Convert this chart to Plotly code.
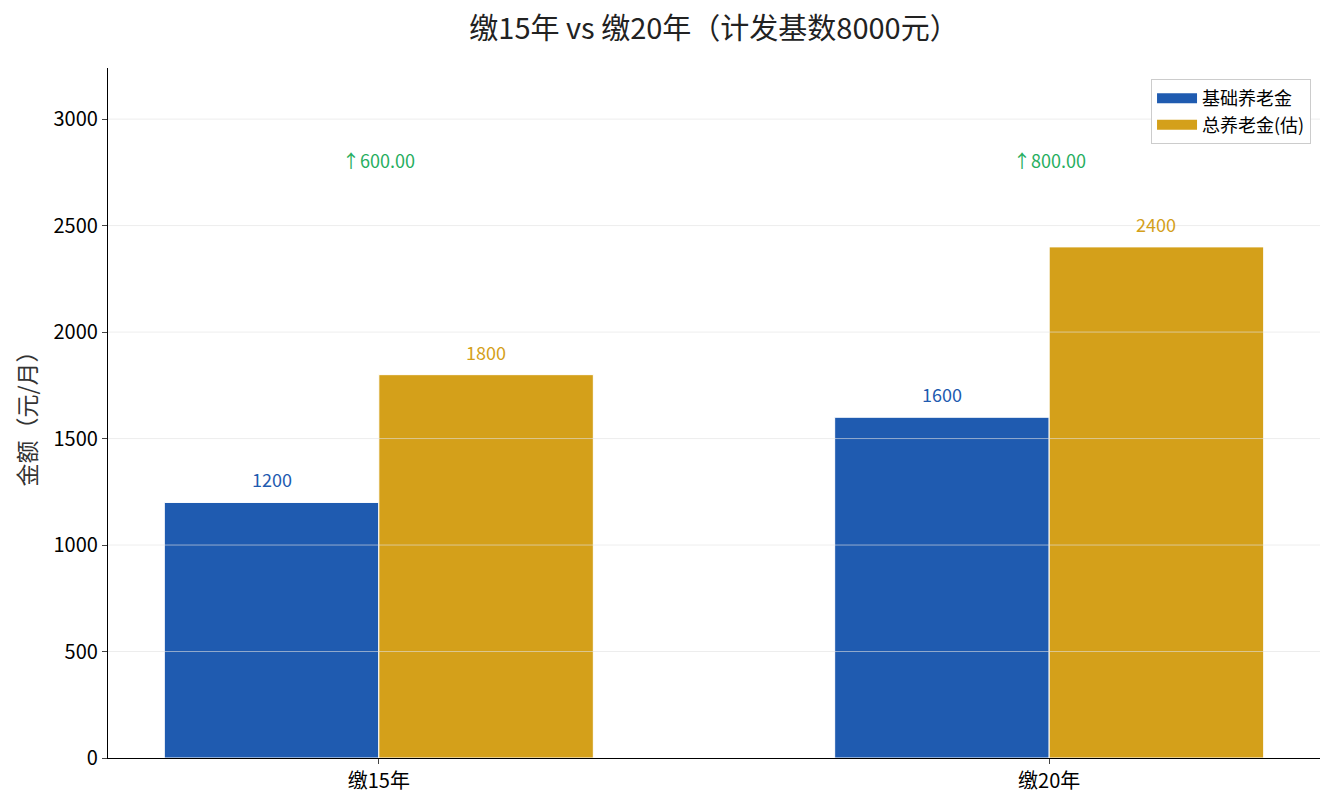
import plotly.graph_objects as go

categories = ["缴15年", "缴20年"]
basic_pension = [1200, 1600]
total_pension = [1800, 2400]
series_names = ["基础养老金", "总养老金(估)"]
y_ticks = [0, 500, 1000, 1500, 2000, 2500, 3000]

BLUE = "#1f5bb0"
GOLD = "#d4a01a"
GREEN = "#27ae60"
FONT = "Noto Sans CJK SC"
W = 0.32

xs = list(range(len(categories)))
fig = go.Figure()
fig.add_trace(go.Bar(x=xs, y=basic_pension, name=series_names[0], width=W, offset=-W, showlegend=False,
                     marker=dict(color=BLUE, line=dict(color="white", width=1))))
fig.add_trace(go.Bar(x=xs, y=total_pension, name=series_names[1], width=W, offset=0, showlegend=False,
                     marker=dict(color=GOLD, line=dict(color="white", width=1))))
# legend entries with wide rectangular swatches
for name, col in zip(series_names, [BLUE, GOLD]):
    fig.add_trace(go.Scatter(x=[None], y=[None], mode="lines", name=name,
                             line=dict(color=col, width=13), hoverinfo="skip"))

ymax = max(total_pension) * 1.35
annotations = []
for i, (b, t) in enumerate(zip(basic_pension, total_pension)):
    annotations.append(dict(x=i - W / 2, y=b, text=str(b), showarrow=False, yshift=23,
                            font=dict(color=BLUE, size=18, family=FONT)))
    annotations.append(dict(x=i + W / 2, y=t, text=str(t), showarrow=False, yshift=23,
                            font=dict(color=GOLD, size=18, family=FONT)))
    annotations.append(dict(x=i, y=max(total_pension) * 1.17, text=f"↑{t - b:.2f}", showarrow=False,
                            font=dict(color=GREEN, size=18, family=FONT)))

shapes = [dict(type="line", xref="paper", x0=0, x1=1, yref="y", y0=v, y1=v, layer="above",
               line=dict(color="rgba(225,225,225,0.6)", width=1)) for v in y_ticks if v > 0]

fig.update_layout(
    width=1327, height=802,
    margin=dict(l=100, r=15, t=60, b=52),
    plot_bgcolor="white", paper_bgcolor="white",
    font=dict(family=FONT, size=18, color="black"),
    title=dict(text="缴15年 vs 缴20年（计发基数8000元）", x=0.5, xref="paper", xanchor="center",
               y=0.974, yanchor="middle",
               font=dict(size=29, color="#222222", family=FONT)),
    showlegend=True,
    legend=dict(x=0.9926, y=0.984, xanchor="right", yanchor="top", bgcolor="white",
                bordercolor="#cccccc", borderwidth=1, font=dict(size=18, family=FONT),
                tracegroupgap=2, itemwidth=40),
    annotations=annotations,
    shapes=shapes,
    xaxis=dict(range=[-0.404, 1.404], tickvals=xs, ticktext=categories, showgrid=False,
               showline=True, linecolor="black", linewidth=1.2, ticks="outside", ticklen=5,
               tickfont=dict(size=20, family=FONT), zeroline=False),
    yaxis=dict(range=[0, ymax], tickvals=y_ticks, showgrid=False, showline=True,
               linecolor="black", linewidth=1.2, ticks="outside", ticklen=5,
               tickfont=dict(size=20, family=FONT), zeroline=False,
               title=dict(text="金额（元/月）", font=dict(size=23, family=FONT, color="#333333"), standoff=10)),
)

fig.write_html("out.html")
